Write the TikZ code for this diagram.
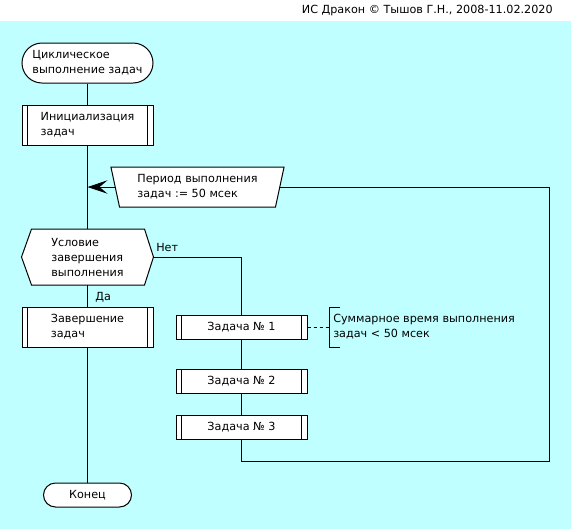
\documentclass[tikz,border=0pt]{standalone}
\usepackage{fontspec}
\setmainfont{DejaVu Sans}
\usetikzlibrary{arrows.meta,positioning,shapes.geometric}
\definecolor{drakonbg}{RGB}{192,255,255}
\newcommand{\drakonfont}{\fontsize{8.4pt}{11.25pt}\selectfont}

\begin{document}
\begin{tikzpicture}[
      x=.75pt,y=-.75pt,
      link/.style={draw=black,line width=.75pt},
      back/.style={-{Stealth[length=15pt,width=10pt,inset=6pt]},draw=black,line width=.75pt},
      hint/.style={draw=black,line width=.75pt,dash pattern=on 2.25pt off 2.25pt},
      term/.style={draw=black,fill=white,line width=.75pt,align=left,font=\drakonfont,
        inner sep=0pt,minimum width=98.25pt,minimum height=30pt,rounded corners=15pt},
      action/.style={draw=black,fill=white,line width=.75pt,align=left,font=\drakonfont,
        inner sep=0pt,minimum width=98.25pt,minimum height=30pt,
        path picture={\draw[line width=.75pt]
          ([xshift=4pt]path picture bounding box.north west) -- ([xshift=4pt]path picture bounding box.south west)
          ([xshift=-4pt]path picture bounding box.north east) -- ([xshift=-4pt]path picture bounding box.south east);}},
      task/.style={action,minimum height=18pt},
      period/.style={trapezium,trapezium stretches=true,shape border rotate=180,
        trapezium left angle=75,trapezium right angle=75,draw=black,fill=white,line width=.75pt,
        align=left,font=\drakonfont,inner sep=0pt,minimum width=131.25pt,minimum height=30pt},
      tag/.style={font=\drakonfont,inner sep=0pt}]
    \fill[drakonbg] (0,0) rectangle (571,529);
    \fill[white] (0,0) rectangle (571,21);
    \useasboundingbox (0,0) rectangle (571,529);
    \node[tag,anchor=east] (title) at (553,11) {ИС Дракон © Тышов Г.Н., 2008-11.02.2020};

    \node[term]   (start) at (87.5,63)  {Циклическое\\выполнение задач};
    \node[action] (init)  at (87.5,125) {Инициализация\\задач};
    \coordinate (join) at (87.5,187);
    \coordinate (condc) at (87.5,257);
    \draw[link,fill=white] ([shift={(-66,0)}]condc) -- ([shift={(-56,-28)}]condc) -- ([shift={(57,-28)}]condc)
      -- ([shift={(66,0)}]condc) -- ([shift={(57,28)}]condc) -- ([shift={(-56,28)}]condc) -- cycle;
    \node[tag,align=left,minimum width=84pt,minimum height=42pt] (cond) at (condc) {Условие\\завершения\\выполнения};
    \coordinate (condtip) at (153.5,257);
    \node[action] (fin)   at (87.5,327) {Завершение\\задач};
    \node[term,minimum width=66pt,minimum height=18pt,rounded corners=9pt] (end) at (87.5,495) {Конец};

    \node[task] (task1) at (241.5,327) {Задача № 1};
    \node[task] (task2) at (241.5,381) {Задача № 2};
    \node[task] (task3) at (241.5,427) {Задача № 3};
    \coordinate (ret) at (549,461);

    \node[tag,anchor=west] (no)  at (156,247) {Нет};
    \node[tag,anchor=west] (yes) at (95,297) {Да};

    \coordinate (brk) at (329,327);
    \node[tag,anchor=west,align=left] (note) at (333,327) {Суммарное время выполнения\\задач < 50 мсек};

    \draw[link] (start) -- (init);
    \draw[link] (init) -- (cond);
    \draw[link] (cond) -- (fin);
    \draw[link] (fin) -- (end);
    \draw[link] (condtip) -| (task1);
    \draw[link] (task1) -- (task2);
    \draw[link] (task2) -- (task3);
    \draw[back] (task3) |- (ret) |- (join);
    \draw[hint] (task1) -- (brk);
    \draw[link] ([shift={(11,-20)}]brk) -- ([shift={(0,-20)}]brk) -- ([shift={(0,20)}]brk) -- ([shift={(11,20)}]brk);

    \node[period] (per) at (197.5,187) {Период выполнения\\задач := 50 мсек};
  \end{tikzpicture}
\end{document}
